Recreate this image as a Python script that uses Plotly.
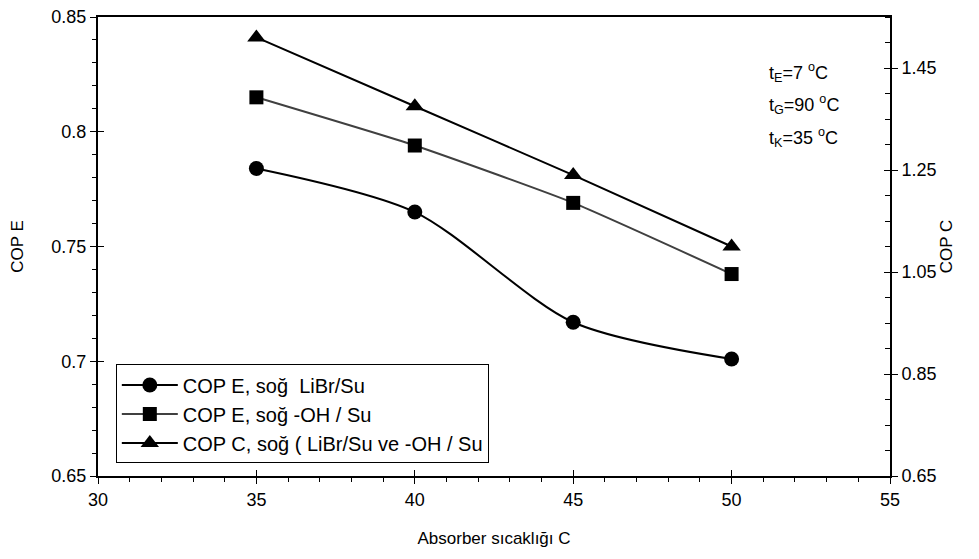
import plotly.graph_objects as go

x_temp = [35, 40, 45, 50]
cop_e_libr = [0.784, 0.765, 0.717, 0.701]
cop_e_oh = [0.815, 0.794, 0.769, 0.738]
cop_c = [1.51, 1.375, 1.24, 1.10]

names = ["COP E, soğ\u00a0\u00a0LiBr/Su", "COP E, soğ -OH / Su", "COP C, soğ ( LiBr/Su ve -OH / Su"]
annot_lines = ["t<sub>E</sub>=7 <sup>o</sup>C", "t<sub>G</sub>=90 <sup>o</sup>C", "t<sub>K</sub>=35 <sup>o</sup>C"]

FONT = "Liberation Sans, Arial, sans-serif"

fig = go.Figure()
fig.add_trace(go.Scatter(x=x_temp, y=cop_e_libr, name=names[0], mode="lines+markers",
                         line=dict(color="black", width=2, shape="spline", smoothing=0.8),
                         marker=dict(symbol="circle", size=15, color="black")))
fig.add_trace(go.Scatter(x=x_temp, y=cop_e_oh, name=names[1], mode="lines+markers",
                         line=dict(color="#404040", width=2, shape="spline", smoothing=0.5),
                         marker=dict(symbol="square", size=14, color="black")))
fig.add_trace(go.Scatter(x=x_temp, y=cop_c, name=names[2], mode="lines+markers", yaxis="y2",
                         line=dict(color="black", width=2, shape="spline", smoothing=0.3),
                         marker=dict(symbol="triangle-up", size=16, color="black")))
# invisible helper traces so the overlay tick axes (inner half of crossing ticks) are drawn
fig.add_trace(go.Scatter(x=x_temp, y=cop_e_libr, xaxis="x2", yaxis="y3", mode="markers",
                         marker=dict(opacity=0), showlegend=False, hoverinfo="skip"))
fig.add_trace(go.Scatter(x=x_temp, y=cop_c, xaxis="x2", yaxis="y4", mode="markers",
                         marker=dict(opacity=0), showlegend=False, hoverinfo="skip"))

tickfont = dict(family=FONT, size=18, color="black")
titlefont = dict(family=FONT, size=17, color="black")

# page body has an 8px default margin, so margins are offset to place the plot area
fig.update_layout(
    width=979, height=559,
    margin=dict(l=90, r=97, t=9, b=91, autoexpand=False),
    paper_bgcolor="white", plot_bgcolor="white",
    font=dict(family=FONT, color="black"),
    xaxis=dict(range=[30, 55], tickvals=[30, 35, 40, 45, 50, 55], ticks="outside", ticklen=6,
               tickwidth=1, tickcolor="black", showline=True, linecolor="black", linewidth=2,
               mirror=True, showgrid=False, zeroline=False, tickfont=tickfont, automargin=False,
               ticklabeloverflow="allow",
               minor=dict(dtick=1, ticks="outside", ticklen=4, tickcolor="black", showgrid=False),
               title=dict(text="Absorber sıcaklığı C", font=titlefont, standoff=24)),
    xaxis2=dict(overlaying="x", matches="x", anchor="y", side="bottom", range=[30, 55],
                tickvals=[35, 40, 45, 50], ticks="inside", ticklen=6, tickcolor="black",
                showticklabels=False, showline=False, showgrid=False, zeroline=False,
                automargin=False),
    yaxis=dict(range=[0.65, 0.85], tickvals=[0.65, 0.7, 0.75, 0.8, 0.85], ticks="outside",
               ticklen=6, tickwidth=1, tickcolor="black", showline=True, linecolor="black",
               linewidth=2, showgrid=False, zeroline=False, tickfont=tickfont, automargin=False,
               ticklabeloverflow="allow",
               minor=dict(dtick=0.01, ticks="outside", ticklen=4, tickcolor="black", showgrid=False),
               title=dict(text="COP E", font=titlefont, standoff=23)),
    yaxis2=dict(overlaying="y", side="right", anchor="x", range=[0.65, 1.55],
                tickvals=[0.65, 0.85, 1.05, 1.25, 1.45], tickformat=".2f", ticks="outside",
                ticklen=6, tickwidth=1, tickcolor="black", showline=True, linecolor="black",
                linewidth=2, showgrid=False, zeroline=False, tickfont=tickfont, automargin=False,
                ticklabeloverflow="allow",
                minor=dict(dtick=0.05, ticks="inside", ticklen=5, tickcolor="black", showgrid=False),
                title=dict(text="COP C", font=titlefont, standoff=2)),
    yaxis3=dict(overlaying="y", matches="y", anchor="x", side="left", range=[0.65, 0.85],
                tickvals=[0.7, 0.75, 0.8], ticks="inside", ticklen=6, tickcolor="black",
                showticklabels=False, showline=False, showgrid=False, zeroline=False,
                automargin=False),
    yaxis4=dict(overlaying="y", anchor="x", side="right", range=[0.65, 1.55],
                tickvals=[0.85, 1.05, 1.25, 1.45], ticks="inside", ticklen=6, tickcolor="black",
                showticklabels=False, showline=False, showgrid=False, zeroline=False,
                automargin=False),
    legend=dict(x=0.0225, y=0.243, xanchor="left", yanchor="top",
                bgcolor="white", bordercolor="black", borderwidth=1,
                font=dict(family=FONT, size=20, color="black"), itemwidth=56,
                tracegroupgap=0),
    showlegend=True,
)

ys = [0.8785, 0.809, 0.7375]
for txt, yy in zip(annot_lines, ys):
    fig.add_annotation(text=txt, xref="paper", yref="paper", x=0.845, y=yy,
                       xanchor="left", yanchor="middle", showarrow=False,
                       font=dict(family=FONT, size=18, color="black"))

fig.write_html("out.html")
